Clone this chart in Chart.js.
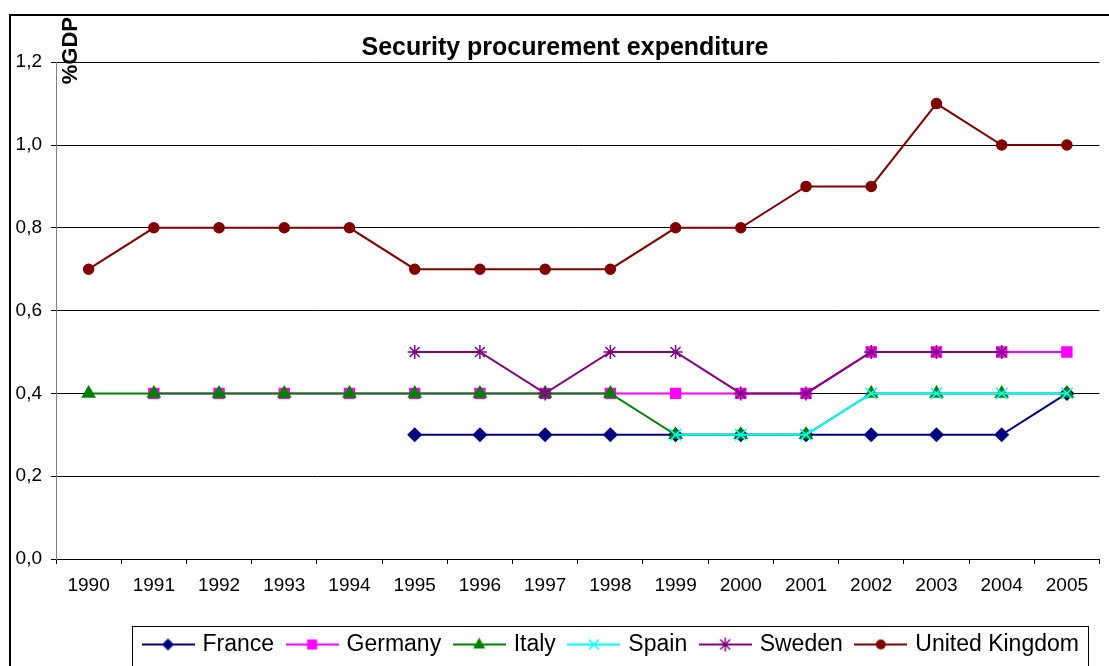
<!DOCTYPE html>
<html>
<head>
<meta charset="utf-8">
<script src="https://cdn.jsdelivr.net/npm/chart.js@4/dist/chart.umd.min.js"></script>
<style>
  html, body { margin: 0; padding: 0; background: #fff; }
  #wrap { width: 1109px; height: 666px; }
</style>
</head>
<body>
<div id="wrap"><canvas id="chart"></canvas></div>
<script>
const years = ['1990', '1991', '1992', '1993', '1994', '1995', '1996', '1997',
  '1998', '1999', '2000', '2001', '2002', '2003', '2004', '2005'];

const france  = [null, null, null, null, null, 0.3, 0.3, 0.3, 0.3, 0.3, 0.3, 0.3, 0.3, 0.3, 0.3, 0.4];
const germany = [null, 0.4, 0.4, 0.4, 0.4, 0.4, 0.4, 0.4, 0.4, 0.4, 0.4, 0.4, 0.5, 0.5, 0.5, 0.5];
const italy   = [0.4, 0.4, 0.4, 0.4, 0.4, 0.4, 0.4, 0.4, 0.4, 0.3, 0.3, 0.3, 0.4, 0.4, 0.4, 0.4];
const spain   = [null, null, null, null, null, null, null, null, null, 0.3, 0.3, 0.3, 0.4, 0.4, 0.4, 0.4];
const sweden  = [null, null, null, null, null, 0.5, 0.5, 0.4, 0.5, 0.5, 0.4, 0.4, 0.5, 0.5, 0.5, null];
const uk      = [0.7, 0.8, 0.8, 0.8, 0.8, 0.7, 0.7, 0.7, 0.7, 0.8, 0.8, 0.9, 0.9, 1.1, 1.0, 1.0];

const seriesNames = ['France', 'Germany', 'Italy', 'Spain', 'Sweden', 'United Kingdom'];
const seriesData = [france, germany, italy, spain, sweden, uk];
const colors = ['#000080', '#ff00ff', '#008000', '#00ffff', '#800080', '#800000'];
const markers = ['rectRot', 'rect', 'triangle', 'crossRot', 'star', 'circle'];
const radii = [6.5, 7, 7, 8, 7, 5];

// small canvas with line + marker for the legend (Excel style)
function legendIcon(color, style) {
  const c = document.createElement('canvas');
  c.width = 53;
  c.height = 16;
  const ctx = c.getContext('2d');
  const cx = 26.5, cy = 8;
  ctx.strokeStyle = color;
  ctx.fillStyle = color;
  ctx.lineWidth = 2;
  ctx.beginPath();
  ctx.moveTo(0, cy);
  ctx.lineTo(53, cy);
  ctx.stroke();
  ctx.lineWidth = 1.5;
  ctx.beginPath();
  if (style === 'rectRot') {
    ctx.moveTo(cx, cy - 6); ctx.lineTo(cx + 6, cy); ctx.lineTo(cx, cy + 6); ctx.lineTo(cx - 6, cy);
    ctx.closePath(); ctx.fill();
  } else if (style === 'rect') {
    ctx.fillRect(cx - 5, cy - 5, 10, 10);
  } else if (style === 'triangle') {
    ctx.moveTo(cx, cy - 7); ctx.lineTo(cx + 6, cy + 4); ctx.lineTo(cx - 6, cy + 4);
    ctx.closePath(); ctx.fill();
  } else if (style === 'crossRot') {
    ctx.moveTo(cx - 5, cy - 5); ctx.lineTo(cx + 5, cy + 5);
    ctx.moveTo(cx + 5, cy - 5); ctx.lineTo(cx - 5, cy + 5);
    ctx.stroke();
  } else if (style === 'star') {
    ctx.moveTo(cx - 5, cy - 5); ctx.lineTo(cx + 5, cy + 5);
    ctx.moveTo(cx + 5, cy - 5); ctx.lineTo(cx - 5, cy + 5);
    ctx.moveTo(cx, cy - 7); ctx.lineTo(cx, cy + 7);
    ctx.stroke();
  } else {
    ctx.arc(cx, cy, 5, 0, Math.PI * 2);
    ctx.fill();
  }
  return c;
}

const icons = colors.map((col, i) => legendIcon(col, markers[i]));

const datasets = seriesNames.map((name, i) => ({
  label: name,
  data: seriesData[i],
  borderColor: colors[i],
  backgroundColor: colors[i],
  borderWidth: 2,
  pointStyle: markers[i],
  pointRadius: radii[i],
  pointBorderWidth: 1.5,
  pointBorderColor: colors[i],
  pointBackgroundColor: colors[i],
  tension: 0,
  order: seriesNames.length - 1 - i,
}));

const framePlugin = {
  id: 'frame',
  afterLayout(chart) {
    const lg = chart.legend;
    const w = lg.width;
    lg.left = 130;
    lg.right = 130 + w;
    lg.top = 618;
    lg.bottom = 618 + lg.height;
    // title is centred on the whole frame, not on the canvas
    if (chart.titleBlock) {
      chart.titleBlock.left += 12;
      chart.titleBlock.right += 12;
    }
  },
  beforeDraw(chart) {
    const ctx = chart.ctx;
    ctx.save();
    ctx.strokeStyle = '#000';
    ctx.lineWidth = 2;
    ctx.strokeRect(10, 15, 1200, 700);
    ctx.restore();
  },
  afterDraw(chart) {
    const ctx = chart.ctx;
    ctx.save();
    ctx.strokeStyle = '#000';
    ctx.lineWidth = 1;
    ctx.strokeRect(132.5, 626.5, 956, 80);
    ctx.translate(71, 17);
    ctx.rotate(-Math.PI / 2);
    ctx.font = 'bold 22px "Liberation Sans", Arial, sans-serif';
    ctx.fillStyle = '#000';
    ctx.textAlign = 'right';
    ctx.textBaseline = 'middle';
    ctx.fillText('%GDP', 0, 0);
    ctx.restore();
  }
};

new Chart(document.getElementById('chart'), {
  type: 'line',
  data: { labels: years, datasets: datasets },
  plugins: [framePlugin],
  options: {
    responsive: true,
    maintainAspectRatio: false,
    animation: false,
    layout: { padding: { left: 0, right: 3, top: 0, bottom: 0 } },
    plugins: {
      title: {
        display: true,
        text: 'Security procurement expenditure',
        color: '#000',
        font: { family: '"Liberation Sans", Arial, sans-serif', size: 25, weight: 'bold', lineHeight: 1.1 },
        padding: { top: 34.7, bottom: 0 },
      },
      legend: {
        position: 'bottom',
        align: 'start',
        labels: {
          color: '#000',
          font: { family: '"Liberation Sans", Arial, sans-serif', size: 23 },
          usePointStyle: true,
          pointStyleWidth: 46,
          padding: 15,
          sort: (a, b) => a.datasetIndex - b.datasetIndex,
          generateLabels(chart) {
            const items = Chart.defaults.plugins.legend.labels.generateLabels(chart);
            items.forEach(it => { it.pointStyle = icons[it.datasetIndex]; });
            return items;
          },
        },
      },
      tooltip: { enabled: false },
    },
    scales: {
      x: {
        offset: true,
        grid: { display: true, drawOnChartArea: false, offset: true, tickLength: 5, color: '#000' },
        border: { color: '#000', width: 1 },
        ticks: {
          color: '#000',
          padding: 10,
          maxRotation: 0,
          font: { family: '"Liberation Sans", Arial, sans-serif', size: 19 },
        },
        afterFit(scale) {
          scale.height = 107 - scale.chart.legend.height;
        },
      },
      y: {
        min: 0,
        max: 1.2,
        ticks: {
          stepSize: 0.2,
          color: '#000',
          padding: 9,
          font: { family: '"Liberation Sans", Arial, sans-serif', size: 19 },
          callback: v => v.toFixed(1).replace('.', ','),
        },
        grid: { color: '#000', lineWidth: 1, tickLength: 5 },
        border: { color: '#808080', width: 1 },
        afterFit(scale) {
          scale.width = 56;
        },
      },
    },
  },
});
</script>
</body>
</html>
